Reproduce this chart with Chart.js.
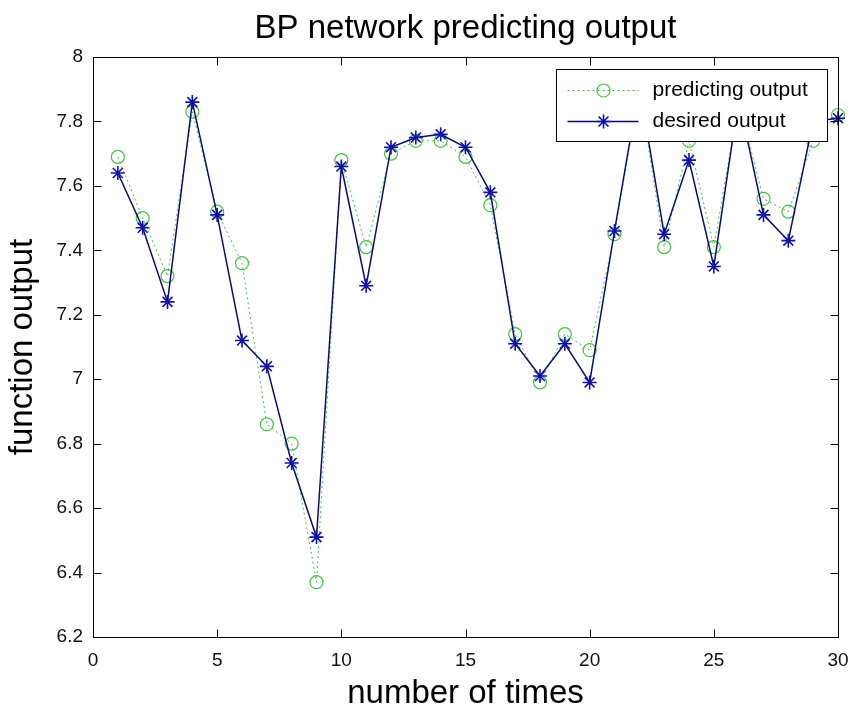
<!DOCTYPE html>
<html>
<head>
<meta charset="utf-8">
<script src="https://cdn.jsdelivr.net/npm/chart.js@4"></script>
<style>
  html, body { margin: 0; padding: 0; background: #fff; }
</style>
</head>
<body>
<canvas id="chart" width="852" height="710"></canvas>
<script>
// BP network predicting output
const TIMES = [1, 2, 3, 4, 5, 6, 7, 8, 9, 10, 11, 12, 13, 14, 15, 16, 17, 18, 19, 20, 21, 22, 23, 24, 25, 26, 27, 28, 29, 30];
const PREDICTED = [7.69, 7.50, 7.32, 7.83, 7.52, 7.36, 6.86, 6.80, 6.37, 7.68, 7.41, 7.70, 7.74, 7.74, 7.69, 7.54, 7.14, 6.99, 7.14, 7.09, 7.45, 7.90, 7.41, 7.74, 7.41, 7.86, 7.56, 7.52, 7.74, 7.82];
const DESIRED = [7.64, 7.47, 7.24, 7.86, 7.51, 7.12, 7.04, 6.74, 6.51, 7.66, 7.29, 7.72, 7.75, 7.76, 7.72, 7.58, 7.11, 7.01, 7.11, 6.99, 7.46, 7.91, 7.45, 7.68, 7.35, 7.87, 7.51, 7.43, 7.80, 7.81];
const X_TICKS = [0, 5, 10, 15, 20, 25, 30];
const Y_TICKS = [6.2, 6.4, 6.6, 6.8, 7, 7.2, 7.4, 7.6, 7.8, 8];

const FONT = '"Liberation Sans", Arial, sans-serif';
Chart.defaults.font.family = FONT;
Chart.defaults.color = '#111';

const toPoints = ys => TIMES.map((t, i) => ({x: t, y: ys[i]}));

// Frame, inward ticks (matlab style) and the boxed legend
const axesBox = {
  id: 'axesBox',
  afterDraw(chart) {
    const {ctx, chartArea: a, scales} = chart;
    const L = Math.round(a.left) + 0.5, R = Math.round(a.right) + 0.5;
    const T = Math.round(a.top) + 0.5, B = Math.round(a.bottom) + 0.5;
    const len = 8;
    ctx.save();
    ctx.strokeStyle = '#000';
    ctx.lineWidth = 1;
    ctx.strokeRect(L, T, R - L, B - T);
    ctx.beginPath();
    scales.x.ticks.forEach(t => {
      const px = Math.round(scales.x.getPixelForValue(t.value)) + 0.5;
      ctx.moveTo(px, B); ctx.lineTo(px, B - len);
      ctx.moveTo(px, T); ctx.lineTo(px, T + len);
    });
    scales.y.ticks.forEach(t => {
      const py = Math.round(scales.y.getPixelForValue(t.value)) + 0.5;
      ctx.moveTo(L, py); ctx.lineTo(L + len, py);
      ctx.moveTo(R, py); ctx.lineTo(R - len, py);
    });
    ctx.stroke();

    // legend
    const bx = Math.round(a.right - 282) + 0.5, by = Math.round(a.top + 12) + 0.5;
    const bw = 271, bh = 72;
    ctx.fillStyle = '#fff';
    ctx.fillRect(bx, by, bw, bh);
    ctx.strokeRect(bx, by, bw, bh);
    ctx.font = '21px ' + FONT;
    ctx.textBaseline = 'middle';
    chart.data.datasets.forEach((ds, i) => {
      const y = by + 21 + i * 31;
      ctx.save();
      ctx.strokeStyle = ds.borderColor;
      ctx.lineWidth = ds.borderWidth;
      ctx.setLineDash(ds.borderDash || []);
      ctx.beginPath();
      ctx.moveTo(bx + 11, y); ctx.lineTo(bx + 82, y);
      ctx.stroke();
      ctx.setLineDash([]);
      ctx.strokeStyle = ds.pointBorderColor;
      ctx.fillStyle = ds.pointBackgroundColor;
      ctx.lineWidth = ds.pointBorderWidth;
      Chart.helpers.drawPoint(ctx, {
        pointStyle: ds.pointStyle, radius: ds.pointRadius, rotation: 0,
        borderWidth: ds.pointBorderWidth
      }, bx + 47, y);
      ctx.restore();
      ctx.fillStyle = '#000';
      ctx.fillText(ds.label, bx + 96, y);
    });
    ctx.restore();
  }
};

new Chart(document.getElementById('chart'), {
  type: 'line',
  data: {
    datasets: [
      {
        label: 'predicting output',
        data: toPoints(PREDICTED),
        borderColor: '#3fc43f',
        borderWidth: 1,
        borderDash: [2, 3],
        pointStyle: 'circle',
        pointRadius: 6.5,
        pointBorderColor: '#3fc43f',
        pointBackgroundColor: 'rgba(0,0,0,0)',
        pointBorderWidth: 1.2,
        tension: 0,
        order: 1,
        clip: false
      },
      {
        label: 'desired output',
        data: toPoints(DESIRED),
        borderColor: '#0a0a78',
        borderWidth: 1.5,
        pointStyle: 'star',
        pointRadius: 7,
        pointBorderColor: '#1010b0',
        pointBackgroundColor: '#1010b0',
        pointBorderWidth: 1.6,
        tension: 0,
        order: 0,
        clip: false
      }
    ]
  },
  options: {
    responsive: false,
    animation: false,
    layout: { padding: 0 },
    scales: {
      x: {
        type: 'linear',
        min: 0,
        max: 30,
        afterBuildTicks: s => { s.ticks = X_TICKS.map(v => ({value: v})); },
        afterFit: s => { s.height = 73; s.paddingLeft = 0; s.paddingRight = 14; },
        grid: { display: false, drawTicks: false },
        border: { display: false },
        ticks: { font: { size: 19 }, color: '#111', padding: 12, maxRotation: 0, autoSkip: false },
        title: { display: true, text: 'number of times', color: '#000', font: { size: 33, lineHeight: 1 }, padding: 0 }
      },
      y: {
        type: 'linear',
        min: 6.2,
        max: 8,
        afterBuildTicks: s => { s.ticks = Y_TICKS.map(v => ({value: v})); },
        afterFit: s => { s.width = 93; },
        grid: { display: false, drawTicks: false },
        border: { display: false },
        ticks: { font: { size: 19 }, color: '#111', padding: 10, autoSkip: false, callback: v => String(+v.toFixed(1)) },
        title: { display: true, text: 'function output', color: '#000', font: { size: 33, lineHeight: 1 }, padding: { top: 6, bottom: 0 } }
      }
    },
    plugins: {
      legend: { display: false },
      tooltip: { enabled: false },
      title: {
        display: true,
        fullSize: false,
        text: 'BP network predicting output',
        color: '#000',
        font: { size: 33, weight: 'normal', lineHeight: 1 },
        padding: { top: 12, bottom: 12 }
      }
    }
  },
  plugins: [axesBox]
});
</script>
</body>
</html>
